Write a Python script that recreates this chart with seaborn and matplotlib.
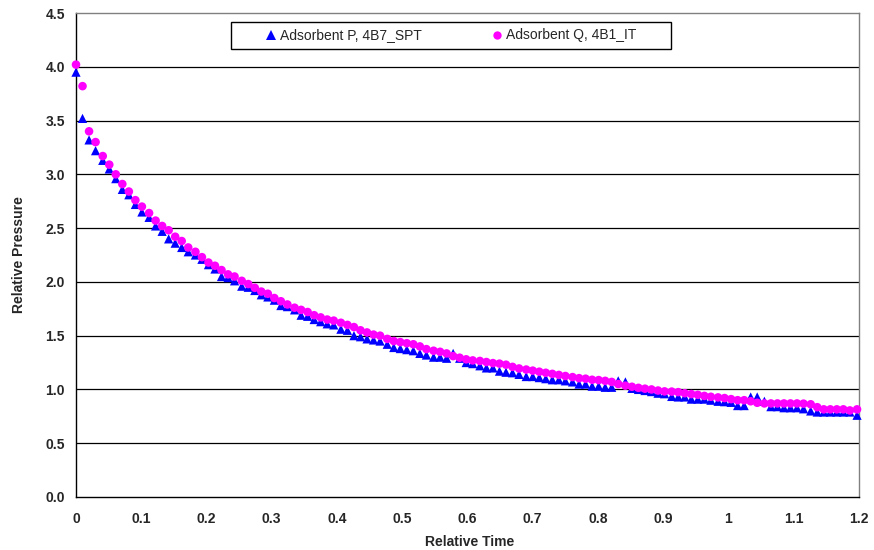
import numpy as np
import pandas as pd
import matplotlib
matplotlib.use("Agg")
import matplotlib.pyplot as plt
from matplotlib.lines import Line2D
from matplotlib.patches import Rectangle
from matplotlib.ticker import MultipleLocator
import seaborn as sns

# ---- data -------------------------------------------------------------
relative_time = [
    0.000, 0.010, 0.020, 0.030, 0.041, 0.051, 0.061, 0.071, 0.081, 0.091,
    0.101, 0.112, 0.122, 0.132, 0.142, 0.152, 0.162, 0.172, 0.183, 0.193,
    0.203, 0.213, 0.223, 0.233, 0.243, 0.254, 0.264, 0.274, 0.284, 0.294,
    0.304, 0.314, 0.324, 0.335, 0.345, 0.355, 0.365, 0.375, 0.385, 0.395,
    0.406, 0.416, 0.426, 0.436, 0.446, 0.456, 0.466, 0.477, 0.487, 0.497,
    0.507, 0.517, 0.527, 0.537, 0.548, 0.558, 0.568, 0.578, 0.588, 0.598,
    0.608, 0.619, 0.629, 0.639, 0.649, 0.659, 0.669, 0.679, 0.690, 0.700,
    0.710, 0.720, 0.730, 0.740, 0.750, 0.761, 0.771, 0.781, 0.791, 0.801,
    0.811, 0.821, 0.831, 0.842, 0.852, 0.862, 0.872, 0.882, 0.892, 0.902,
    0.913, 0.923, 0.933, 0.943, 0.953, 0.963, 0.973, 0.984, 0.994, 1.004,
    1.014, 1.024, 1.034, 1.044, 1.055, 1.065, 1.075, 1.085, 1.095, 1.105,
    1.115, 1.126, 1.136, 1.146, 1.156, 1.166, 1.176, 1.186, 1.197,
]

pressure_p = [
    3.95, 3.52, 3.32, 3.22, 3.13, 3.05, 2.96, 2.86, 2.81, 2.72,
    2.65, 2.60, 2.52, 2.47, 2.40, 2.36, 2.32, 2.28, 2.25, 2.21,
    2.16, 2.12, 2.05, 2.04, 2.01, 1.96, 1.95, 1.92, 1.88, 1.86,
    1.83, 1.78, 1.77, 1.74, 1.69, 1.68, 1.65, 1.63, 1.61, 1.60,
    1.56, 1.55, 1.50, 1.49, 1.47, 1.46, 1.45, 1.42, 1.39, 1.38,
    1.37, 1.36, 1.335, 1.32, 1.30, 1.30, 1.29, 1.335, 1.29, 1.25,
    1.24, 1.22, 1.20, 1.20, 1.17, 1.16, 1.155, 1.14, 1.12, 1.12,
    1.11, 1.10, 1.09, 1.09, 1.08, 1.07, 1.05, 1.05, 1.03, 1.03,
    1.02, 1.02, 1.08, 1.07, 1.01, 1.00, 0.99, 0.98, 0.965, 0.96,
    0.935, 0.93, 0.93, 0.91, 0.91, 0.91, 0.90, 0.89, 0.886, 0.88,
    0.85, 0.85, 0.93, 0.93, 0.89, 0.84, 0.84, 0.83, 0.83, 0.83,
    0.82, 0.80, 0.79, 0.79, 0.79, 0.79, 0.79, 0.79, 0.76,
]

pressure_q = [
    4.02, 3.82, 3.40, 3.30, 3.17, 3.09, 3.00, 2.91, 2.84, 2.76,
    2.70, 2.64, 2.57, 2.52, 2.48, 2.42, 2.38, 2.32, 2.28, 2.23,
    2.18, 2.15, 2.11, 2.07, 2.05, 2.01, 1.98, 1.945, 1.91, 1.89,
    1.85, 1.82, 1.79, 1.76, 1.74, 1.72, 1.69, 1.67, 1.65, 1.64,
    1.62, 1.60, 1.58, 1.55, 1.53, 1.51, 1.50, 1.47, 1.45, 1.44,
    1.43, 1.42, 1.40, 1.375, 1.36, 1.35, 1.335, 1.31, 1.295, 1.28,
    1.27, 1.265, 1.255, 1.245, 1.24, 1.23, 1.21, 1.195, 1.185, 1.175,
    1.165, 1.155, 1.145, 1.135, 1.125, 1.115, 1.105, 1.10, 1.09, 1.087,
    1.08, 1.07, 1.05, 1.035, 1.025, 1.015, 1.007, 1.00, 0.99, 0.982,
    0.98, 0.975, 0.965, 0.957, 0.95, 0.94, 0.932, 0.926, 0.92, 0.91,
    0.90, 0.90, 0.89, 0.876, 0.87, 0.87, 0.87, 0.87, 0.87, 0.87,
    0.868, 0.862, 0.835, 0.815, 0.815, 0.815, 0.815, 0.805, 0.815,
]

series_names = ["Adsorbent P, 4B7_SPT", "Adsorbent Q, 4B1_IT"]
x_tick_values = [0, 0.1, 0.2, 0.3, 0.4, 0.5, 0.6, 0.7, 0.8, 0.9, 1.0, 1.1, 1.2]
x_tick_labels = ["0", "0.1", "0.2", "0.3", "0.4", "0.5", "0.6", "0.7",
                 "0.8", "0.9", "1", "1.1", "1.2"]
y_tick_values = [0.0, 0.5, 1.0, 1.5, 2.0, 2.5, 3.0, 3.5, 4.0, 4.5]
y_tick_labels = ["0.0", "0.5", "1.0", "1.5", "2.0", "2.5", "3.0", "3.5", "4.0", "4.5"]

# ---- styling ----------------------------------------------------------
sns.set_style("white")
plt.rcParams["font.family"] = ["Liberation Sans", "DejaVu Sans"]

colors = {series_names[0]: "#0000FF", series_names[1]: "#FF00FF"}
markers = {series_names[0]: "^", series_names[1]: "o"}
marker_area = {series_names[0]: 44, series_names[1]: 38}

df = pd.concat([
    pd.DataFrame({"time": relative_time, "pressure": pressure_p, "series": series_names[0]}),
    pd.DataFrame({"time": relative_time, "pressure": pressure_q, "series": series_names[1]}),
], ignore_index=True)

fig = plt.figure(figsize=(8.74, 5.50), dpi=100)
ax = fig.add_axes([76 / 874, 1 - 497 / 550, (859 - 76) / 874, (497 - 13) / 550])

for name in series_names:
    sub = df[df["series"] == name]
    sns.scatterplot(data=sub, x="time", y="pressure", ax=ax,
                    color=colors[name], marker=markers[name],
                    s=marker_area[name], linewidth=0, edgecolor="none",
                    legend=False, clip_on=False, zorder=3)

ax.set_xlim(0, 1.2)
ax.set_ylim(0, 4.5)
ax.set_xticks(x_tick_values)
ax.set_xticklabels(x_tick_labels)
ax.set_yticks(y_tick_values)
ax.set_yticklabels(y_tick_labels)
ax.xaxis.set_minor_locator(MultipleLocator(0.02))
ax.yaxis.set_minor_locator(MultipleLocator(0.1))

ax.tick_params(axis="x", which="major", direction="inout", length=6, width=1,
               pad=7.8, labelsize=10, color="black")
ax.tick_params(axis="y", which="major", direction="inout", length=6, width=1,
               pad=4.9, labelsize=10, color="black")
ax.tick_params(axis="both", which="minor", direction="in", length=3, width=1,
               color="black")
for lab in ax.get_xticklabels() + ax.get_yticklabels():
    lab.set_fontweight("bold")

# horizontal gridlines at each major y tick
for yv in y_tick_values[1:-1]:
    ax.axhline(yv, color="black", linewidth=0.9, zorder=1)

for side in ["left", "bottom"]:
    ax.spines[side].set_color("black")
    ax.spines[side].set_linewidth(1.0)
for side in ["top", "right"]:
    ax.spines[side].set_color("#808080")
    ax.spines[side].set_linewidth(1.0)
    ax.spines[side].set_visible(True)

ax.set_xlabel("Relative Time", fontsize=10, fontweight="bold")
ax.set_ylabel("Relative Pressure", fontsize=10, fontweight="bold")
ax.xaxis.set_label_coords(0.503, -0.079)
ax.yaxis.set_label_coords(-0.064, 0.5)

# legend box with both series in one row
fig.patches.append(Rectangle((231 / 874, 1 - 49.3 / 550), 440 / 874, 27.6 / 550,
                             transform=fig.transFigure, facecolor="white",
                             edgecolor="black", linewidth=1.0, zorder=1))
handles = [
    Line2D([], [], linestyle="none", marker=markers[n], color=colors[n],
           markersize=6.5 if markers[n] == "^" else 6.0, markeredgewidth=0)
    for n in series_names
]
fig.legend(handles, series_names, loc="center left",
           bbox_to_anchor=(265.4 / 874, 1 - 35.5 / 550),
           bbox_transform=fig.transFigure, ncol=2, frameon=False,
           fontsize=10, borderpad=0, borderaxespad=0, handlelength=0.8,
           handletextpad=0.25, columnspacing=5.0)

fig.savefig("out.png", dpi=100, facecolor="white")
